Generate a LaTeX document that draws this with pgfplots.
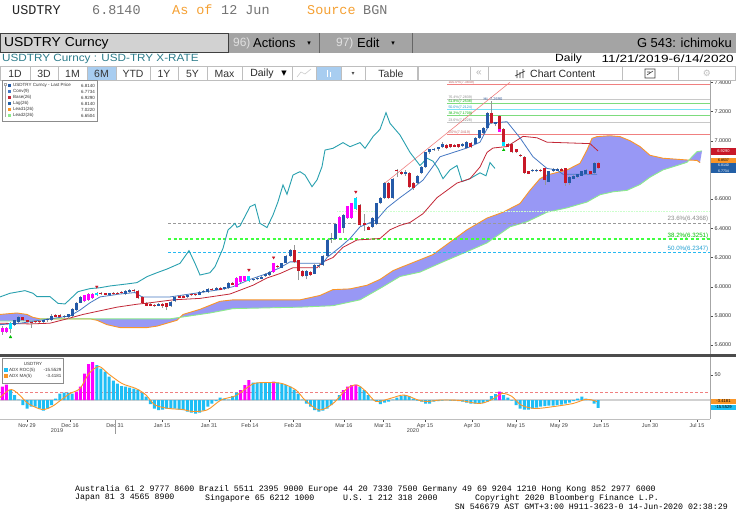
\documentclass[border=0pt]{standalone}
\usepackage{pgfplots}
\usepackage{pgfplotstable}
\pgfplotsset{compat=1.18}
\usepackage{fontspec}
\setmainfont{Liberation Sans}
\newfontfamily\mono{Liberation Mono}
\newfontfamily\dv{DejaVu Sans}
\newcommand\fs[1]{\fontsize{#1}{#1}\selectfont}
\definecolor{upc}{RGB}{36,90,168}
\definecolor{dnc}{RGB}{200,24,40}
\definecolor{mgc}{RGB}{255,0,255}
\definecolor{cyc}{RGB}{0,225,255}
\definecolor{wickc}{RGB}{150,150,150}
\definecolor{convc}{RGB}{70,120,195}
\definecolor{basec}{RGB}{195,40,55}
\definecolor{lagc}{RGB}{40,160,175}
\definecolor{lead1c}{RGB}{250,150,40}
\definecolor{lead2c}{RGB}{140,235,140}
\definecolor{cloudc}{RGB}{152,152,245}
\definecolor{roc}{RGB}{30,190,245}
\definecolor{bbor}{RGB}{245,160,50}
\definecolor{tealt}{RGB}{45,125,140}
\definecolor{hbar}{RGB}{164,164,164}
\definecolor{hbox}{RGB}{210,210,210}
\definecolor{btnb}{RGB}{190,190,190}
\definecolor{btnsel}{RGB}{168,205,240}
\definecolor{fibred}{RGB}{240,128,128}
\definecolor{fibgr}{RGB}{125,220,125}
\definecolor{fibcy}{RGB}{120,225,250}
\definecolor{fibgy}{RGB}{200,200,200}
\definecolor{tagblue}{RGB}{35,95,165}

\pgfplotstableread{
x b t l h
14.6 5.740 5.770 5.730 5.775
18.7 5.760 5.790 5.750 5.800
43.4 5.760 5.770 5.750 5.775
47.5 5.770 5.780 5.760 5.785
51.6 5.770 5.800 5.765 5.810
64.0 5.790 5.800 5.785 5.805
68.1 5.790 5.810 5.780 5.815
72.2 5.800 5.850 5.795 5.855
76.3 5.840 5.890 5.835 5.895
80.4 5.890 5.930 5.885 5.935
109.2 5.945 5.955 5.940 5.960
125.6 5.950 5.970 5.945 5.975
129.7 5.965 5.980 5.960 5.985
158.5 5.870 5.880 5.865 5.885
170.8 5.870 5.895 5.860 5.900
174.9 5.900 5.930 5.895 5.935
187.3 5.930 5.940 5.925 5.945
199.6 5.945 5.965 5.940 5.970
203.7 5.962 5.972 5.955 5.975
207.8 5.965 5.985 5.960 5.990
216.0 5.980 5.990 5.975 5.995
224.2 5.985 5.995 5.980 6.000
228.4 5.990 6.025 5.985 6.030
253.0 6.045 6.055 6.040 6.060
257.1 6.050 6.060 6.045 6.065
261.2 6.055 6.065 6.050 6.070
265.3 6.070 6.090 6.065 6.095
269.5 6.080 6.100 6.075 6.105
281.8 6.130 6.160 6.125 6.165
285.9 6.160 6.210 6.155 6.215
290.0 6.210 6.250 6.205 6.260
306.4 6.070 6.110 6.050 6.115
314.7 6.090 6.150 6.085 6.155
318.8 6.140 6.150 6.130 6.160
322.9 6.150 6.210 6.145 6.215
327.0 6.210 6.320 6.205 6.325
331.1 6.325 6.335 6.300 6.370
335.2 6.330 6.430 6.320 6.435
343.4 6.400 6.490 6.370 6.500
372.2 6.410 6.470 6.400 6.475
376.3 6.430 6.570 6.420 6.575
380.4 6.570 6.610 6.565 6.615
384.5 6.610 6.710 6.600 6.715
392.8 6.610 6.740 6.600 6.745
405.1 6.775 6.785 6.760 6.800
417.4 6.710 6.760 6.700 6.765
421.5 6.780 6.820 6.775 6.825
425.6 6.820 6.920 6.815 6.925
429.7 6.920 6.940 6.910 6.945
433.9 6.935 6.945 6.930 6.950
438.0 6.940 6.955 6.930 6.960
442.1 6.955 6.980 6.950 6.990
462.6 6.965 6.975 6.955 6.985
466.7 6.950 6.990 6.945 6.995
475.0 6.980 7.020 6.975 7.025
479.1 7.020 7.070 7.015 7.075
483.2 7.050 7.090 7.045 7.095
487.3 7.090 7.190 7.085 7.200
495.5 7.115 7.125 7.100 7.130
532.5 6.790 6.800 6.785 6.805
536.6 6.790 6.800 6.785 6.805
548.9 6.720 6.790 6.715 6.795
553.0 6.790 6.805 6.785 6.810
557.2 6.795 6.805 6.790 6.810
569.5 6.710 6.750 6.700 6.755
573.6 6.740 6.760 6.735 6.765
577.7 6.750 6.770 6.745 6.775
581.8 6.760 6.790 6.755 6.795
585.9 6.770 6.800 6.765 6.805
594.1 6.780 6.850 6.775 6.855
}\upT

\pgfplotstableread{
x b t l h
22.9 5.770 5.790 5.765 5.795
27.0 5.760 5.770 5.755 5.775
31.1 5.750 5.760 5.720 5.765
35.2 5.755 5.765 5.750 5.770
39.3 5.755 5.765 5.750 5.770
55.7 5.795 5.805 5.790 5.810
59.8 5.795 5.805 5.790 5.810
100.9 5.950 5.960 5.945 5.965
105.1 5.945 5.955 5.940 5.960
113.3 5.950 5.958 5.945 5.965
117.4 5.950 5.960 5.945 5.965
121.5 5.955 5.963 5.950 5.970
133.8 5.970 5.980 5.965 5.985
137.9 5.920 5.970 5.915 5.975
142.0 5.890 5.930 5.885 5.935
146.2 5.870 5.890 5.865 5.895
150.3 5.870 5.880 5.865 5.885
154.4 5.865 5.875 5.860 5.880
162.6 5.870 5.880 5.855 5.885
166.7 5.860 5.885 5.840 5.890
179.0 5.925 5.935 5.920 5.940
183.1 5.925 5.935 5.920 5.940
191.4 5.940 5.950 5.935 5.955
195.5 5.940 5.950 5.935 5.955
211.9 5.975 5.985 5.970 5.990
220.1 5.980 5.990 5.975 5.995
232.5 6.015 6.025 6.010 6.030
277.7 6.135 6.145 6.130 6.150
294.1 6.170 6.250 6.165 6.285
298.2 6.110 6.180 6.045 6.185
302.3 6.070 6.110 6.065 6.115
310.6 6.080 6.100 6.075 6.105
359.9 6.420 6.560 6.415 6.565
364.0 6.425 6.435 6.380 6.500
368.1 6.390 6.410 6.385 6.415
388.6 6.610 6.710 6.600 6.715
396.9 6.790 6.800 6.750 6.805
401.0 6.775 6.785 6.765 6.790
409.2 6.680 6.780 6.675 6.785
413.3 6.675 6.710 6.665 6.715
446.2 6.950 6.970 6.945 6.975
450.3 6.955 6.975 6.950 6.980
454.4 6.960 6.970 6.955 6.975
458.5 6.955 6.975 6.950 6.980
470.8 6.955 6.985 6.950 6.990
491.4 7.120 7.190 7.115 7.269
499.6 7.070 7.170 7.065 7.175
503.7 6.980 7.080 6.975 7.085
507.8 6.960 6.980 6.955 6.985
511.9 6.920 6.980 6.915 6.985
516.1 6.920 6.940 6.915 6.945
520.2 6.895 6.905 6.890 6.910
524.3 6.780 6.890 6.775 6.895
528.4 6.775 6.790 6.770 6.795
540.7 6.790 6.800 6.785 6.805
544.8 6.730 6.810 6.700 6.815
561.3 6.795 6.805 6.790 6.810
565.4 6.710 6.810 6.690 6.815
590.0 6.770 6.790 6.765 6.795
598.2 6.810 6.850 6.805 6.855
}\dnT

\pgfplotstableread{
x b t l h
2.3 5.690 5.720 5.670 5.730
6.4 5.690 5.720 5.680 5.725
84.5 5.900 5.940 5.895 5.945
88.6 5.910 5.950 5.905 5.955
92.7 5.920 5.950 5.915 5.955
236.6 6.000 6.060 5.995 6.065
240.7 6.030 6.070 6.025 6.075
244.8 6.040 6.070 6.035 6.075
273.6 6.100 6.160 6.095 6.165
339.3 6.370 6.480 6.365 6.485
347.5 6.470 6.550 6.465 6.555
351.7 6.470 6.570 6.465 6.575
499.6 7.062 7.080 7.062 7.080
}\mgT

\pgfplotstableread{
x b t l h
10.5 5.710 5.750 5.680 5.760
96.8 5.940 5.960 5.935 5.965
248.9 6.040 6.070 6.035 6.075
355.8 6.530 6.610 6.525 6.615
503.7 6.965 6.990 6.965 6.990
}\cyT

\pgfplotstableread{
x v
10.5 20
14.6 10
18.7 1
22.9 -10
27.0 -17
31.1 -13
35.2 -13
39.3 -17
43.4 -21
47.5 -17
51.6 -10
55.7 3
59.8 13
64.0 15
68.1 15
72.2 13
96.8 70
100.9 63
105.1 57
109.2 47
113.3 39
117.4 33
121.5 28
125.6 27
129.7 25
133.8 23
137.9 21
142.0 15
146.2 7
150.3 -8
154.4 -17
158.5 -20
162.6 -19
166.7 -17
170.8 -17
174.9 -17
179.0 -19
183.1 -20
187.3 -23
191.4 -25
195.5 -27
199.6 -25
203.7 -21
207.8 -13
211.9 -7
216.0 -2
220.1 5
224.2 3
228.4 1
232.5 8
236.6 15
253.0 35
257.1 35
261.2 35
265.3 35
269.5 35
277.7 35
281.8 33
285.9 30
290.0 27
294.1 21
298.2 13
302.3 1
306.4 -7
310.6 -13
314.7 -20
318.8 -23
322.9 -21
327.0 -17
331.1 -10
335.2 -1
339.3 10
359.9 27
364.0 20
368.1 10
372.2 1
376.3 -3
380.4 -8
384.5 -5
388.6 -3
392.8 1
396.9 5
401.0 8
405.1 10
409.2 8
413.3 3
417.4 -1
421.5 -3
425.6 -7
429.7 -7
433.9 -3
438.0 -2
442.1 -1
446.2 0.5
450.3 -1
454.4 -1
458.5 -2
462.6 -3
466.7 -5
470.8 -7
475.0 -7
479.1 -6
483.2 -6
487.3 -3
491.4 8
495.5 12
503.7 10
507.8 5
511.9 -1
516.1 -10
520.2 -17
524.3 -19
528.4 -19
532.5 -17
536.6 -15
540.7 -13
544.8 -12
548.9 -11
553.0 -11
557.2 -10
561.3 -9
565.4 -7
569.5 -5
573.6 -2
577.7 3
581.8 7
585.9 3
590.0 1
594.1 -7
598.2 -15.55
}\rocC

\pgfplotstableread{
x v
2.3 27
6.4 31
76.3 17
80.4 27
84.5 53
88.6 72
92.7 76
240.7 20
244.8 30
248.9 40
273.6 37
343.4 20
347.5 27
351.7 30
355.8 31
499.6 17
}\rocM

\newcommand\candles[2]{%
\addplot[forget plot, wickc, line width=0.6bp, mark=none, quiver={u=0, v={\thisrow{h}-\thisrow{l}}}] table[x=x, y=l] {#1};
\addplot[forget plot, #2, line width=3bp, mark=none, quiver={u=0, v={max(\thisrow{t}-\thisrow{b},0.008)}}] table[x=x, y=b] {#1};
}

\begin{document}
\begin{tikzpicture}
\path[use as bounding box, fill=white] (0bp,0bp) rectangle (736bp,-529bp);

% ---------------- main panel ----------------
\begin{axis}[at={(0bp,-355bp)}, anchor=south west, scale only axis,
  width=710bp, height=275bp,
  xmin=0, xmax=710, ymin=5.5322, ymax=7.4158,
  axis line style={draw=none}, xtick=\empty,
  ytick={5.6,5.8,6.0,6.2,6.4,6.6,7.0,7.2,7.4},
  extra y ticks={6.8}, extra y tick labels={},
  ytick pos=right, yticklabel pos=right, tick align=outside,
  major tick length=2.5bp, tick style={black!70, line width=0.4bp},
  yticklabel style={font=\fs{5.5}, text=black!80, xshift=-1.5bp,
    /pgf/number format/.cd, fixed, fixed zerofill, precision=4, assume math mode=true},
  clip=true]
% cloud (area between Lead1 and Lead2)
\addplot[forget plot, fill=cloudc, draw=none] coordinates {
(0,5.81)(17,5.82)(27,5.81)(33,5.79)(40,5.78)(80,5.78)(90,5.78)(97,5.77)(107,5.74)(120,5.72)(147,5.72)(157,5.73)(167,5.75)(177,5.77)(183,5.81)(200,5.845)(220,5.90)(233,5.91)(300,5.91)(320,5.94)(333,5.98)(350,5.985)(367,6.01)(380,6.05)(393,6.11)(400,6.13)(433,6.22)(443,6.27)(467,6.39)(487,6.47)(503,6.51)(520,6.57)(530,6.66)(540,6.74)(547,6.765)(567,6.80)(580,6.845)(587,6.936)(592,7.016)(597,7.028)(610,7.034)(620,7.028)(630,7.00)(640,6.96)(650,6.90)(663,6.88)(687,6.868)(697,6.865)(700,6.85)
(702,6.93)(697,6.925)(692,6.89)(687,6.852)(677,6.83)(663,6.80)(650,6.75)(640,6.70)(627,6.66)(613,6.65)(600,6.63)(587,6.58)(567,6.54)(547,6.51)(527,6.445)(510,6.41)(487,6.30)(467,6.24)(443,6.17)(420,6.10)(400,6.07)(383,6.00)(360,5.91)(333,5.87)(300,5.86)(233,5.85)(210,5.82)(180,5.79)(170,5.78)(100,5.78)(42,5.78)(37,5.765)(0,5.765)} -- cycle;
\addplot[forget plot, lead1c, line width=0.9bp] coordinates {
(0,5.81)(17,5.82)(27,5.81)(33,5.79)(40,5.78)(80,5.78)(90,5.78)(97,5.77)(107,5.74)(120,5.72)(147,5.72)(157,5.73)(167,5.75)(177,5.77)(183,5.81)(200,5.845)(220,5.90)(233,5.91)(300,5.91)(320,5.94)(333,5.98)(350,5.985)(367,6.01)(380,6.05)(393,6.11)(400,6.13)(433,6.22)(443,6.27)(467,6.39)(487,6.47)(503,6.51)(520,6.57)(530,6.66)(540,6.74)(547,6.765)(567,6.80)(580,6.845)(587,6.936)(592,7.016)(597,7.028)(610,7.034)(620,7.028)(630,7.00)(640,6.96)(650,6.90)(663,6.88)(687,6.868)(697,6.865)(700,6.85)};
\addplot[forget plot, lead2c, line width=0.9bp] coordinates {
(0,5.765)(37,5.765)(42,5.78)(100,5.78)(170,5.78)(180,5.79)(210,5.82)(233,5.85)(300,5.86)(333,5.87)(360,5.91)(383,6.00)(400,6.07)(420,6.10)(443,6.17)(467,6.24)(487,6.30)(510,6.41)(527,6.445)(547,6.51)(567,6.54)(587,6.58)(600,6.63)(613,6.65)(627,6.66)(640,6.70)(650,6.75)(663,6.80)(677,6.83)(687,6.852)(692,6.89)(697,6.925)(702,6.93)};
% fibonacci levels (upper set)
\addplot[forget plot, fibred, line width=0.7bp] coordinates {(447,7.3849)(710,7.3849)};
\addplot[forget plot, fibgy, line width=0.6bp] coordinates {(447,7.2839)(710,7.2839)};
\addplot[forget plot, fibgr, line width=0.6bp] coordinates {(447,7.2538)(710,7.2538)};
\addplot[forget plot, fibcy, line width=0.6bp] coordinates {(447,7.2124)(710,7.2124)};
\addplot[forget plot, fibgr, line width=0.6bp] coordinates {(447,7.1709)(710,7.1709)};
\addplot[forget plot, fibgy, line width=0.6bp] coordinates {(447,7.1228)(710,7.1228)};
\addplot[forget plot, fibred, line width=0.7bp] coordinates {(447,7.0419)(710,7.0419)};
% fibonacci levels (lower set)
\addplot[forget plot, green!20, densely dotted, line width=0.6bp] coordinates {(337,6.514)(710,6.514)};
\addplot[forget plot, black!40, dash pattern=on 3bp off 2bp, line width=0.6bp] coordinates {(168,6.4368)(710,6.4368)};
\addplot[forget plot, green!75!white, dash pattern=on 3bp off 2.5bp, line width=1.6bp] coordinates {(168,6.3251)(710,6.3251)};
\addplot[forget plot, cyan!85!white, dash pattern=on 3bp off 2bp, line width=0.8bp] coordinates {(168,6.2347)(710,6.2347)};
% trend line
\addplot[forget plot, fibred, line width=0.6bp] coordinates {(385,6.71)(510,7.40)};
% lag
\addplot[forget plot, lagc, line width=0.9bp] coordinates {
(0,5.93)(10,5.955)(25,5.973)(33,5.955)(37,5.932)(50,5.932)(58,5.886)(65,5.882)(70,5.914)(78,5.966)(90,5.987)(100,5.993)(110,6.005)(127,6.019)(137,6.028)(147,6.069)(157,6.096)(167,6.121)(180,6.16)(189,6.247)(195,6.16)(200,6.08)(210,6.096)(215,6.137)(223,6.263)(228,6.388)(235,6.434)(237,6.407)(240,6.416)(250,6.548)(255,6.564)(260,6.434)(267,6.405)(273,6.491)(278,6.582)(283,6.697)(287,6.633)(293,6.765)(300,6.788)(305,6.765)(312,6.685)(317,6.731)(322,6.822)(325,6.936)(333,6.948)(343,6.987)(350,6.959)(360,6.987)(365,6.948)(373,7.028)(380,7.078)(386,7.192)(390,7.119)(400,7.039)(410,6.92)(420,6.83)(427,6.88)(433,6.86)(438,6.81)(443,6.74)(450,6.80)(457,6.83)(462,6.72)(470,6.74)(480,6.78)(486,6.76)(490,6.85)(495,6.81)};
% base
\addplot[forget plot, basec, line width=0.8bp] coordinates {
(0,5.75)(30,5.745)(50,5.75)(67,5.78)(83,5.81)(100,5.835)(117,5.86)(137,5.88)(150,5.89)(173,5.91)(200,5.92)(230,5.95)(253,6.01)(267,6.06)(280,6.09)(293,6.13)(317,6.13)(323,6.17)(333,6.20)(343,6.27)(357,6.32)(380,6.33)(390,6.39)(400,6.42)(410,6.44)(423,6.50)(437,6.61)(457,6.71)(470,6.74)(480,6.82)(487,6.92)(493,6.95)(507,6.96)(523,7.03)(537,7.02)(547,6.99)(590,6.98)(598,6.93)};
% conversion
\addplot[forget plot, convc, line width=0.8bp] coordinates {
(0,5.74)(20,5.75)(40,5.77)(60,5.79)(70,5.80)(80,5.84)(90,5.89)(100,5.93)(120,5.95)(135,5.96)(142,5.93)(170,5.93)(180,5.94)(200,5.96)(220,5.98)(233,6.00)(250,6.05)(267,6.09)(280,6.13)(290,6.17)(297,6.17)(300,6.16)(323,6.16)(327,6.20)(340,6.27)(350,6.33)(360,6.41)(367,6.43)(377,6.46)(387,6.54)(400,6.61)(410,6.66)(423,6.73)(440,6.89)(467,6.95)(480,6.99)(490,7.12)(507,7.13)(520,7.02)(533,6.89)(547,6.81)(557,6.80)(563,6.77)(597,6.77)};
% candles
\candles{\upT}{upc}
\candles{\dnT}{dnc}
\candles{\mgT}{mgc}
\candles{\cyT}{cyc}
% TD markers
\addplot[forget plot, only marks, mark=triangle*, mark size=1.5bp, mark options={rotate=180, fill=dnc, draw=dnc}] coordinates {(96.8,6.00)(248.9,6.115)(273.6,6.20)(355.8,6.65)};
\addplot[forget plot, only marks, mark=triangle*, mark size=1.5bp, mark options={fill=green!75!black, draw=green!75!black}] coordinates {(10.5,5.655)(503.7,6.936)};
% labels
\node[anchor=south west, inner sep=0.3bp, font=\fs{3.6}, text=fibred!80!black] at (axis cs:448,7.3849) {100.0\%(7.3849)};
\node[anchor=south west, inner sep=0.3bp, font=\fs{3.6}, text=black!45] at (axis cs:448,7.2839) {76.4\%(7.2839)};
\node[anchor=south west, inner sep=0.3bp, font=\fs{3.6}, text=green!70!black] at (axis cs:448,7.2538) {61.8\%(7.2538)};
\node[anchor=south west, inner sep=0.3bp, font=\fs{3.6}, text=cyan!80!black] at (axis cs:448,7.2124) {50.0\%(7.2124)};
\node[anchor=south west, inner sep=0.3bp, font=\fs{3.6}, text=green!70!black] at (axis cs:448,7.1709) {38.2\%(7.1709)};
\node[anchor=south west, inner sep=0.3bp, font=\fs{3.6}, text=black!45] at (axis cs:448,7.1228) {23.6\%(7.1228)};
\node[anchor=south west, inner sep=0.3bp, font=\fs{3.6}, text=fibred!80!black] at (axis cs:448,7.0419) {0.0\%(7.0419)};
\node[anchor=south, inner sep=0.3bp, font=\fs{4}, text=convc!80!black] at (axis cs:493,7.272) {Hi: 7.2690};
\node[anchor=south east, inner sep=0.6bp, font=\fs{6.2}, text=black!45] at (axis cs:709,6.4368) {23.6\%(6.4368)};
\node[anchor=south east, inner sep=0.6bp, font=\fs{6.2}, text=green!75!black] at (axis cs:709,6.3251) {38.2\%(6.3251)};
\node[anchor=south east, inner sep=0.6bp, font=\fs{6.2}, text=cyan!85!black] at (axis cs:709,6.2347) {50.0\%(6.2347)};
\end{axis}

% ---------------- lower panel ----------------
\begin{axis}[at={(0bp,-419bp)}, anchor=south west, scale only axis,
  width=710bp, height=62bp,
  xmin=0, xmax=710, ymin=-38, ymax=86,
  axis line style={draw=none},
  ytick={50}, ytick pos=right, yticklabel pos=right, tick align=outside,
  major tick length=2.5bp, tick style={black!70, line width=0.4bp},
  yticklabel style={font=\fs{5.5}, text=black!80, xshift=-1.5bp, /pgf/number format/assume math mode=true},
  xtick={27,70,115,162,209,250,293,344,383,425,472,516,559,601,650,697},
  xticklabels={Nov 29,Dec 16,Dec 31,Jan 15,Jan 31,Feb 14,Feb 28,Mar 16,Mar 31,Apr 15,Apr 30,May 15,May 29,Jun 15,Jun 30,Jul 15},
  xtick pos=bottom, xticklabel style={font=\fs{5.5}, text=black!75, yshift=1bp},
  clip=true]
\addplot[forget plot, black!18, line width=1.8bp] coordinates {(0,0)(710,0)};
\addplot[forget plot, fibred, dash pattern=on 3bp off 2bp, line width=0.6bp] coordinates {(0,15)(710,15)};
\addplot[forget plot, ybar, bar width=3bp, bar shift=0bp, fill=roc, draw=none] table[x=x, y=v] {\rocC};
\addplot[forget plot, ybar, bar width=3bp, bar shift=0bp, fill=mgc, draw=none] table[x=x, y=v] {\rocM};
\addplot[forget plot, lead1c, line width=0.9bp, smooth, tension=0.5] coordinates {
(0,5)(9,20)(14,19)(21,7)(28,-7)(42,-19)(52,-13)(61,0)(70,13)(80,23)(89,53)(99,67)(108,53)(122,33)(136,23)(146,10)(155,-10)(169,-17)(183,-19)(192,-23)(207,-20)(221,0)(235,8)(244,20)(254,33)(268,35)(282,33)(296,20)(305,0)(319,-20)(333,-7)(347,23)(357,30)(366,17)(376,-3)(390,3)(404,10)(418,0)(427,-3)(441,0)(460,-1)(479,-7)(491,0)(502,13)(512,7)(521,-10)(535,-17)(554,-13)(573,-7)(585,1)(592,0)(597,-3.4)};
\end{axis}

\begin{scope}[x=1bp,y=-1bp]
% ---- top line ----
\node[anchor=west,inner sep=0,font=\mono\fs{13.5},text=black!85] at (12,10) {USDTRY};
\node[anchor=west,inner sep=0,font=\mono\fs{13.5},text=black!55] at (92,10) {6.8140};
\node[anchor=west,inner sep=0,font=\mono\fs{13.5},text=bbor] at (172,10) {As of};
\node[anchor=west,inner sep=0,font=\mono\fs{13.5},text=black!55] at (221,10) {12 Jun};
\node[anchor=west,inner sep=0,font=\mono\fs{13.5},text=bbor] at (307,10) {Source};
\node[anchor=west,inner sep=0,font=\mono\fs{13.5},text=black!55] at (363,10) {BGN};
% ---- gray bar ----
\fill[hbar] (0,33) rectangle (736,52.5);
\draw[black!75, fill=hbox] (0.5,33.5) rectangle (228,52);
\draw[black!60, line width=0.8bp] (319.5,33) -- (319.5,52.5);
\draw[black!60, line width=0.8bp] (412.5,33) -- (412.5,52.5);
\node[anchor=west, inner sep=0, font=\fs{13}, xscale=1.07] at (4,43) {USDTRY Curncy};
\node[anchor=west, inner sep=0, font=\fs{12}, text=white!88!black] at (233,43) {96)};
\node[anchor=west, inner sep=0, font=\fs{13}] at (253,43) {Actions};
\node[inner sep=0, font=\dv\fs{7}] at (309,44) {▾};
\node[anchor=west, inner sep=0, font=\fs{12}, text=white!88!black] at (336,43) {97)};
\node[anchor=west, inner sep=0, font=\fs{13}] at (357,43) {Edit};
\node[inner sep=0, font=\dv\fs{7}] at (393,44) {▾};
\node[anchor=east, inner sep=0, font=\fs{13}] at (732,43) {G 543: ichimoku};
% ---- subtitle ----
\node[anchor=west, inner sep=0, font=\fs{10.5}, text=tealt, xscale=1.12] at (2,58.5) {USDTRY Curncy : USD-TRY X-RATE};
\node[anchor=west, inner sep=0, font=\fs{10.5}, xscale=1.15] at (555,58.5) {Daily};
\node[anchor=east, inner sep=0, font=\fs{10.5}, xscale=1.3] at (734,58.5) {11/21/2019-6/14/2020};
% ---- buttons ----
\foreach \a/\b/\t in {0/30/1D, 30/58/3D, 58/87/1M, 116/150/YTD, 150/178/1Y, 178/207/5Y, 207/242/Max, 365/417/Table}
  {\draw[btnb, fill=white] (\a,66.5) rectangle (\b,80);
   \node[inner sep=0, font=\fs{10.5}, text=black!80] at ({(\a+\b)/2},73.5) {\t};}
\draw[btnb, fill=btnsel] (87,66.5) rectangle (116,80);
\node[inner sep=0, font=\fs{10.5}, text=black!80] at (101.5,73.5) {6M};
\draw[btnb, fill=white] (242,66.5) rectangle (292,80);
\node[inner sep=0, font=\fs{10.5}, text=black!85] at (262,73.5) {Daily};
\node[inner sep=0, font=\dv\fs{7}] at (284,73.8) {▼};
\draw[btnb, fill=white] (292,66.5) rectangle (316,80);
\draw[black!20, line width=0.6bp] (297,77) -- (301,72) -- (305,74) -- (311,69);
\draw[btnb, fill=btnsel] (316,66.5) rectangle (341,80);
\draw[white, line width=0.8bp] (327,70) -- (327,77) (330,72) -- (330,77);
\draw[btnb, fill=white] (341,66.5) rectangle (365,80);
\node[inner sep=0, font=\dv\fs{6}, text=black!70] at (353,73.8) {▾};
\draw[btnb, fill=white] (418,66.5) rectangle (470,80);
\draw[btnb, fill=white] (470,66.5) rectangle (488,80);
\node[inner sep=0, font=\fs{10}, text=black!30] at (479,73.2) {«};
\draw[btnb, fill=white] (488,66.5) rectangle (622,80);
\draw[black!80, line width=0.6bp] (517,78) -- (517,70) (520,78) -- (520,72) (523,78) -- (523,69) (515,76) -- (525,71);
\node[anchor=west, inner sep=0, font=\fs{10.5}, text=black!85] at (530,73.5) {Chart Content};
\draw[btnb, fill=white] (622,66.5) rectangle (678,80);
\draw[black!75, line width=0.6bp] (645,69) rectangle (655,78) (647,75) -- (653,71) (647,72) -- (650,72);
\draw[btnb, fill=white] (678,66.5) rectangle (735.5,80);
\node[inner sep=0, font=\dv\fs{9}, text=black!25] at (707,73.5) {⚙};
% ---- panel frames ----
\draw[black!35, line width=0.6bp] (710,80) -- (710,355);
\draw[black!35, line width=0.6bp] (710,357) -- (710,419);
\draw[black!25, line width=0.6bp] (0,419) -- (710,419);
\draw[black!70, line width=2.6bp] (0,355.7) -- (736,355.7);
\draw[black!40, line width=0.5bp] (115,420) -- (115,434);
\node[font=\fs{5.5}, text=black!75, inner sep=0] at (57,430.5) {2019};
\node[font=\fs{5.5}, text=black!75, inner sep=0] at (413,430.5) {2020};
% ---- main legend ----
\draw[black!45, fill=white, line width=0.5bp] (2,80.5) rectangle (97,121);
\draw[black!35, line width=0.4bp] (4.5,83.5) rectangle (6.5,85.5) (5.5,85.5) -- (5.5,117);
\fill[upc] (7.5,83.7) rectangle (11,87.2);
\fill[convc] (7.5,89.7) rectangle (11,93.2);
\fill[basec] (7.5,95.7) rectangle (11,99.2);
\fill[tagblue] (7.5,101.7) rectangle (11,105.2);
\fill[lead1c] (7.5,107.7) rectangle (11,111.2);
\fill[lead2c] (7.5,113.7) rectangle (11,117.2);
\foreach \yy/\nm/\vv in {85.5/USDTRY Curncy - Last Price/6.8140, 91.5/Conv(9)/6.7734, 97.5/Base(26)/6.9290, 103.5/Lag(26)/6.8140, 109.5/Lead1(26)/7.0220, 115.5/Lead2(26)/6.6504}
  {\node[anchor=west, inner sep=0, font=\fs{4.5}, text=black!80] at (13,\yy) {\nm};
   \node[anchor=east, inner sep=0, font=\fs{4.5}, text=black!80] at (95,\yy) {\vv};}
% ---- right value tags ----
\fill[dnc] (711,148) rectangle (736,155);
\node[inner sep=0, font=\fs{4}, text=white] at (723.5,151.5) {6.9290};
\fill[lead1c] (711,158) rectangle (736,162.8);
\node[inner sep=0, font=\fs{3.6}, text=black] at (723.5,160.4) {6.8537};
\fill[tagblue] (711,163.1) rectangle (736,167.6);
\node[inner sep=0, font=\fs{3.6}, text=white] at (723.5,165.2) {6.8140};
\fill[tagblue] (711,168.3) rectangle (736,173.2);
\node[inner sep=0, font=\fs{3.6}, text=white] at (723.5,170.9) {6.7734};
% ---- lower legend and tags ----
\draw[black!45, fill=white, line width=0.5bp] (2,358.5) rectangle (63,383);
\node[inner sep=0, font=\fs{4.5}, text=black!80] at (33,363.5) {USDTRY};
\fill[roc] (4,368.3) rectangle (7.5,371.7);
\node[anchor=west, inner sep=0, font=\fs{4.5}, text=black!80] at (9,370) {ADX ROC(5)};
\node[anchor=east, inner sep=0, font=\fs{4.5}, text=black!80] at (61.5,370) {-15.5529};
\fill[lead1c] (4,374.3) rectangle (7.5,377.7);
\node[anchor=west, inner sep=0, font=\fs{4.5}, text=black!80] at (9,376) {ADX MA(5)};
\node[anchor=east, inner sep=0, font=\fs{4.5}, text=black!80] at (61.5,376) {-3.4181};
\fill[lead1c] (711,398.5) rectangle (736,404.2);
\node[inner sep=0, font=\fs{4.2}, text=black] at (723.5,401.35) {-3.4181};
\fill[roc] (711,404.6) rectangle (736,410.3);
\node[inner sep=0, font=\fs{4.2}, text=black] at (723.5,407.45) {-15.5529};
% ---- footer ----
\node[anchor=west, inner sep=0, font=\mono\fs{8.3}] at (75,489.5) {Australia 61 2 9777 8600 Brazil 5511 2395 9000 Europe 44 20 7330 7500 Germany 49 69 9204 1210 Hong Kong 852 2977 6000};
\node[anchor=west, inner sep=0, font=\mono\fs{8.3}] at (75,498) {Japan 81 3 4565 8900};
\node[anchor=west, inner sep=0, font=\mono\fs{8.3}] at (205,498) {Singapore 65 6212 1000};
\node[anchor=west, inner sep=0, font=\mono\fs{8.3}] at (343,498) {U.S. 1 212 318 2000};
\node[anchor=west, inner sep=0, font=\mono\fs{8.3}] at (475,498) {Copyright 2020 Bloomberg Finance L.P.};
\node[anchor=east, inner sep=0, font=\mono\fs{8.3}] at (728,506.5) {SN 546679 AST  GMT+3:00 H911-3623-0 14-Jun-2020 02:38:29};
\end{scope}
\end{tikzpicture}
\end{document}
